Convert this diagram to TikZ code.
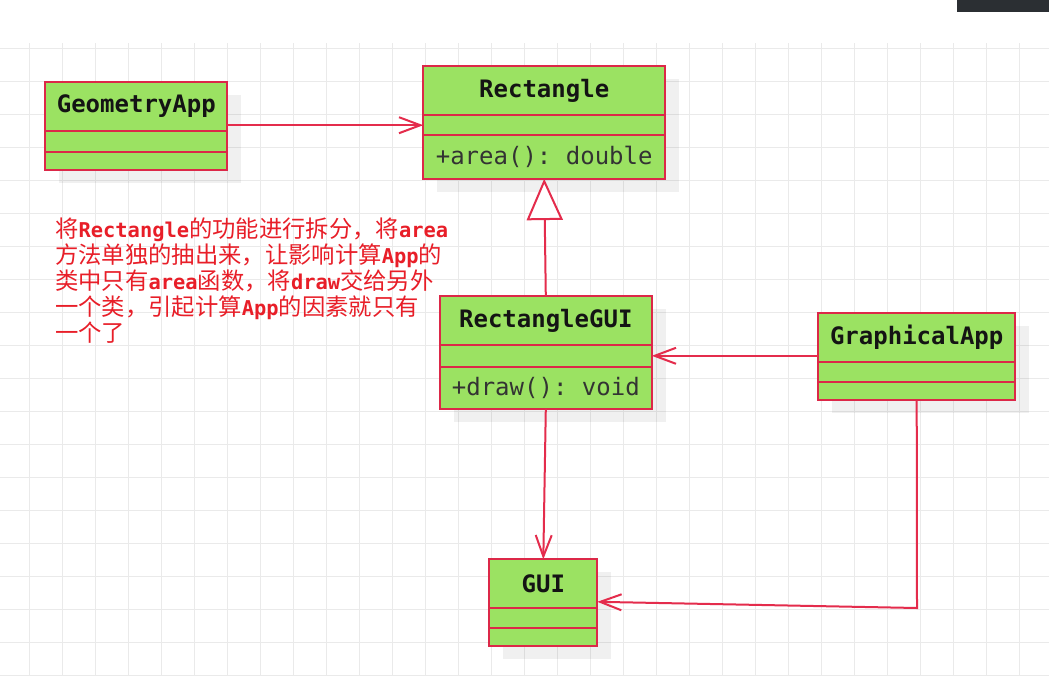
\documentclass[tikz,border=0pt]{standalone}
\usepackage{fontspec}
\setmonofont{DejaVu Sans Mono}
\newfontfamily\cjkfont{Noto Sans CJK SC}
\usepackage{tikz}
\usetikzlibrary{arrows.meta,positioning,calc,backgrounds}
\definecolor{umlgreen}{RGB}{155,226,98}
\definecolor{umlred}{RGB}{220,40,72}
\definecolor{linkred}{RGB}{228,44,76}
\definecolor{notered}{RGB}{232,30,40}
\definecolor{gridgray}{RGB}{234,234,234}
\definecolor{barblack}{RGB}{43,47,51}
\newcommand\lat[1]{{\ttfamily\bfseries\fontsize{15.3pt}{19.5pt}\selectfont #1}}

\begin{document}
\begin{tikzpicture}[
    x=0.75pt, y=-0.75pt,
    cls/.style={draw=umlred, fill=umlgreen, line width=1.5pt, outer sep=0pt, inner sep=0pt, anchor=north},
    clsname/.style={cls, minimum height=36.75pt, text=black!92, font=\ttfamily\bfseries\fontsize{18pt}{20pt}\selectfont},
    clsbox/.style={cls, text=black!80, font=\ttfamily\fontsize{18pt}{20pt}\selectfont},
    gridline/.style={draw=gridgray, line width=1pt},
    note/.style={anchor=north west, align=left, inner sep=0pt, text=notered, font=\cjkfont\fontsize{17.5pt}{19.5pt}\selectfont},
    assoc/.style={draw=linkred, line width=1.5pt, -{Straight Barb[length=16pt, width=12pt]}},
    inherit/.style={draw=linkred, line width=1.5pt, -{Triangle[fill=white, length=31pt, width=27pt]}}
]
\useasboundingbox (0,0) rectangle (1049,693);

% classes
\node[clsname, minimum width=136.5pt] (geo) at (136.3,82) {GeometryApp};
\node[clsbox, minimum width=136.5pt, minimum height=15.75pt, below=0pt of geo] (geo-a) {};
\node[clsbox, minimum width=136.5pt, minimum height=13.5pt, below=0pt of geo-a] (geo-m) {};

\node[clsname, minimum width=181.5pt] (rect) at (544.2,66) {Rectangle};
\node[clsbox, minimum width=181.5pt, minimum height=15.3pt, below=0pt of rect] (rect-a) {};
\node[clsbox, minimum width=181.5pt, minimum height=32.5pt, below=0pt of rect-a] (rect-m) {+area(): double};

\node[clsname, minimum width=159pt] (rgui) at (545.8,296) {RectangleGUI};
\node[clsbox, minimum width=159pt, minimum height=16.2pt, below=0pt of rgui] (rgui-a) {};
\node[clsbox, minimum width=159pt, minimum height=31.5pt, below=0pt of rgui-a] (rgui-m) {+draw(): void};

\node[clsname, minimum width=147.75pt] (gapp) at (916.7,312.7) {GraphicalApp};
\node[clsbox, minimum width=147.75pt, minimum height=15.2pt, below=0pt of gapp] (gapp-a) {};
\node[clsbox, minimum width=147.75pt, minimum height=13.8pt, below=0pt of gapp-a] (gapp-m) {};

\node[clsname, minimum width=81pt] (gui) at (543.3,559.3) {GUI};
\node[clsbox, minimum width=81pt, minimum height=15pt, below=0pt of gui] (gui-a) {};
\node[clsbox, minimum width=81pt, minimum height=13.5pt, below=0pt of gui-a] (gui-m) {};

% page, grid and shadows
\begin{scope}[on background layer]
\fill[white] (0,0) rectangle (1049,693);
\fill[barblack] (957,0) rectangle (1049,12);
\foreach \i in {0,...,19}
    \draw[gridline] (0,48.3+33*\i) -- (1049,48.3+33*\i);
\foreach \i in {0,...,30}
    \draw[gridline] (29.7+33*\i,43) -- (29.7+33*\i,675.3);
\foreach \c in {geo,rect,rgui,gapp,gui}
    \fill[black, opacity=0.06] ([shift={(14,13)}]\c.north west) rectangle ([shift={(14,13)}]\c-m.south east);
\end{scope}

% relations
\draw[assoc] (geo.east |- rect-a.west) -- (rect-a.west);
\draw[inherit] (rgui.north) -- (rect-m.south);
\draw[assoc] (gapp.west |- rgui-a.east) -- (rgui-a.east);
\draw[assoc] (rgui-m.south) -- (gui.north);
\coordinate (gapp-turn) at (917,608);
\draw[assoc] (gapp-m.south) -- (gapp-turn) -- ([yshift=-13.5pt]gui.east);

\node[note] (remark) at (55,218) {将\lat{Rectangle}的功能进行拆分，将\lat{area}\\
方法单独的抽出来，让影响计算\lat{App}的\\
类中只有\lat{area}函数，将\lat{draw}交给另外\\
一个类，引起计算\lat{App}的因素就只有\\
一个了};
\end{tikzpicture}
\end{document}
